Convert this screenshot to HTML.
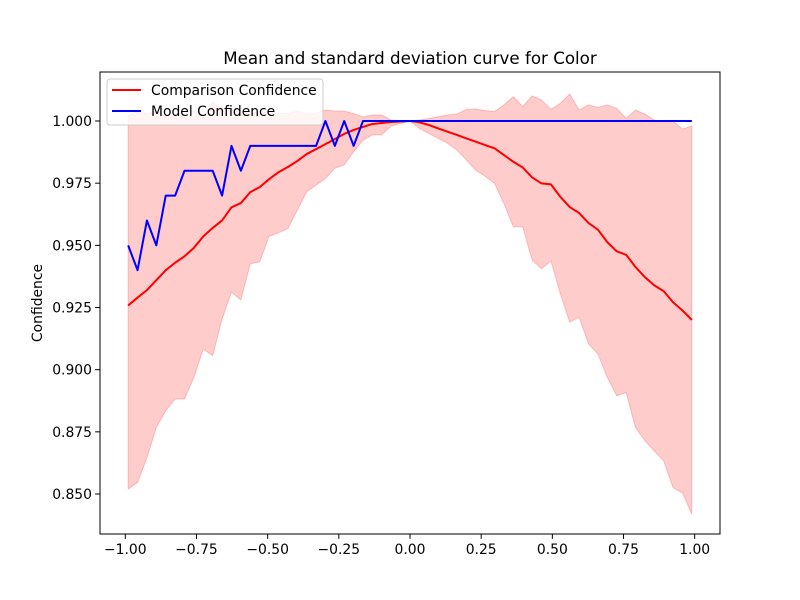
<!DOCTYPE html>
<html><head><meta charset="utf-8"><style>
body{margin:0;background:#fff}
svg{display:block;font-family:"DejaVu Sans","Liberation Sans",sans-serif}
</style></head><body>
<svg id="chart" width="800" height="600" viewBox="0 0 800 600">
<rect width="800" height="600" fill="#fff"/>
<g id="plot"></g>
</svg>
<script>
const N = 61;
const blueVals = [0.95,0.94,0.96,0.95,0.97,0.97,0.98,0.98,0.98,0.98,0.97,0.99,0.98,0.99,0.99,0.99,0.99,0.99,0.99,0.99,0.99,1.0,0.99,1.0,0.99,1.0,1,1,1,1,1,1,1,1,1,1,1,1,1,1,1,1,1,1,1,1,1,1,1,1,1,1,1,1,1,1,1,1,1,1,1];
const meanVals = [0.9258,0.929,0.932,0.936,0.940,0.943,0.9456,0.949,0.9536,0.957,0.960,0.9653,0.967,0.9714,0.9734,0.9766,0.9794,0.9815,0.9839,0.9867,0.9887,0.9907,0.9927,0.9948,0.9964,0.9976,0.9988,0.9992,0.9996,0.9998,1.0,0.9995,0.9984,0.997,0.9957,0.9944,0.993,0.9917,0.9903,0.989,0.9863,0.9836,0.9813,0.9773,0.9749,0.9745,0.9695,0.9654,0.963,0.959,0.9563,0.9513,0.9476,0.9462,0.9413,0.9372,0.9339,0.9316,0.9271,0.9238,0.920];
const lowerVals = [0.852,0.8546,0.8646,0.8767,0.8835,0.8882,0.8882,0.8969,0.9083,0.9056,0.9204,0.9312,0.928,0.9426,0.9433,0.9536,0.955,0.9567,0.9641,0.9715,0.9742,0.9769,0.981,0.9823,0.9876,0.9923,0.9944,0.9944,0.998,0.999,1.0,0.997,0.995,0.993,0.991,0.9883,0.9843,0.9802,0.9778,0.9749,0.9668,0.9574,0.9574,0.944,0.9406,0.9437,0.9305,0.9191,0.9211,0.9104,0.9063,0.8969,0.8895,0.8908,0.8767,0.8714,0.8673,0.8633,0.8525,0.8505,0.8418];
const upperVals = [1.002,1.004,1.003,1.004,1.002,1.003,1.003,1.004,1.002,1.0078,1.004,1.005,1.004,1.004,1.003,1.004,1.003,1.003,1.004,1.003,1.003,1.0044,1.004,1.004,1.003,1.0016,1.0024,1.0024,1.0004,1.0002,1.0,1.0004,1.001,1.0017,1.0024,1.0028,1.0047,1.0048,1.0042,1.0038,1.0065,1.0098,1.0058,1.0101,1.0085,1.0047,1.0071,1.0109,1.0044,1.0065,1.0055,1.0065,1.0051,1.0011,1.0044,1.0028,1.0004,0.9997,1.0,0.9968,0.998];
const xTicks = [-1.00,-0.75,-0.50,-0.25,0.00,0.25,0.50,0.75,1.00];
const xTickLabels = ["\u22121.00","\u22120.75","\u22120.50","\u22120.25","0.00","0.25","0.50","0.75","1.00"];
const yTicks = [0.850,0.875,0.900,0.925,0.950,0.975,1.000];
const yTickLabels = ["0.850","0.875","0.900","0.925","0.950","0.975","1.000"];

const L=100,R=720,T=72,B=534;
const xs = (v)=>125.3 + (v+1)*284.7;
const ys = (v)=>121 + (1-v)*2486.7;
const xData = i => -0.99 + i*1.98/(N-1);
const NS="http://www.w3.org/2000/svg";
const g=document.getElementById('plot');
function mk(tag,attrs,parent){const e=document.createElementNS(NS,tag);for(const k in attrs)e.setAttribute(k,attrs[k]);(parent||g).appendChild(e);return e;}

let d='';
for(let i=0;i<N;i++) d+=(i?'L':'M')+xs(xData(i)).toFixed(2)+','+ys(upperVals[i]).toFixed(2);
for(let i=N-1;i>=0;i--) d+='L'+xs(xData(i)).toFixed(2)+','+ys(lowerVals[i]).toFixed(2);
const band=mk('path',{d:d+'Z',fill:'rgba(255,0,0,0.2)',stroke:'rgba(255,0,0,0.2)','stroke-width':1});



function line(vals,color,name){
  let p='';
  for(let i=0;i<N;i++) p+=(i?'L':'M')+xs(xData(i)).toFixed(2)+','+ys(vals[i]).toFixed(2);
  const e=mk('path',{d:p,fill:'none',stroke:color,'stroke-width':2,'stroke-linejoin':'round'});
  
  
}
line(meanVals,'#ff0000','comparison-confidence-line');
line(blueVals,'#0000ff','model-confidence-line');

const fr=mk('rect',{x:L,y:T,width:R-L,height:B-T,fill:'none',stroke:'#000','stroke-width':1});



xTicks.forEach((v,i)=>{
  const x=xs(v);
  const t=mk('line',{x1:x,x2:x,y1:B,y2:B+4.9,stroke:'#000'});
  
  
  const tx=mk('text',{x:x,y:B+20,'text-anchor':'middle','font-size':13.9,fill:'#000'});
  tx.textContent=xTickLabels[i];
  
  
});
yTicks.forEach((v,i)=>{
  const y=ys(v);
  const t=mk('line',{x1:L-4.9,x2:L,y1:y,y2:y,stroke:'#000'});
  
  
  const tx=mk('text',{x:L-8,y:y+5,'text-anchor':'end','font-size':13.9,fill:'#000'});
  tx.textContent=yTickLabels[i];
  
  
});

const title=mk('text',{x:410,y:64,'text-anchor':'middle','font-size':16.7,fill:'#000'});
title.textContent='Mean and standard deviation curve for Color';


const yl=mk('text',{x:42,y:303,'text-anchor':'middle','font-size':13.9,fill:'#000',transform:'rotate(-90 42 303)'});
yl.textContent='Confidence';



const lg=mk('g',{});


mk('rect',{x:107,y:79,width:216,height:46,rx:3,fill:'rgba(255,255,255,0.8)',stroke:'#ccc'},lg);
mk('line',{x1:112,x2:141,y1:90,y2:90,stroke:'#ff0000','stroke-width':2},lg);
const l1=mk('text',{x:151,y:95,'font-size':13.9,fill:'#000'},lg);
l1.textContent='Comparison Confidence';


mk('line',{x1:112,x2:141,y1:111,y2:111,stroke:'#0000ff','stroke-width':2},lg);
const l2=mk('text',{x:151,y:116,'font-size':13.9,fill:'#000'},lg);
l2.textContent='Model Confidence';


</script>
</body></html>
